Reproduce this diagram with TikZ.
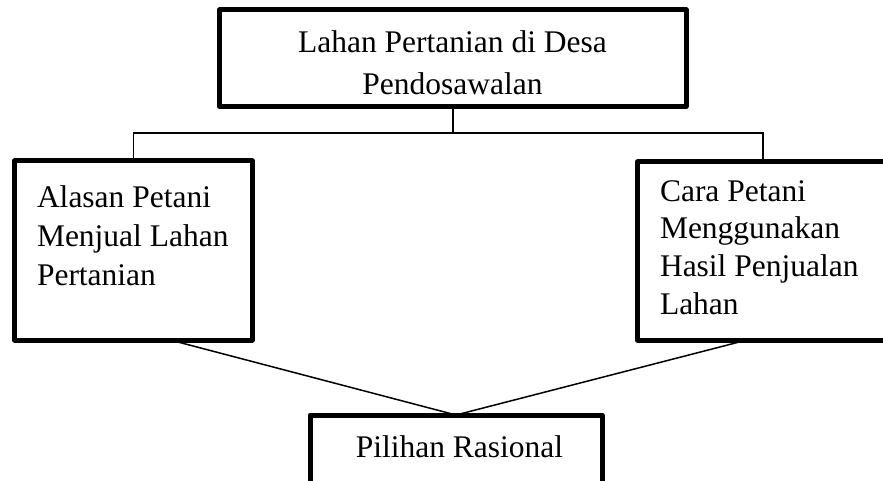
\documentclass[tikz,border=0pt]{standalone}
\usepackage{fontspec}
\setmainfont{Liberation Serif}
\begin{document}
\begin{tikzpicture}[x=1pt,y=-1pt,
  thickbox/.style={draw, line width=5pt, line join=round, rectangle, inner sep=0pt, outer sep=0pt},
  conn/.style={line width=1.5pt},
  lbl/.style={inner sep=0pt, outer sep=0pt, font=\fontsize{31.5}{38}\selectfont}]
\clip (0,0) rectangle (883,481);
\fill[white] (0,0) rectangle (883,481);
% boxes
\node[thickbox, minimum width=466.5pt, minimum height=96.5pt] (top) at (452.75,58.25) {};
\node[thickbox, minimum width=237.5pt, minimum height=179pt] (left) at (133.25,250.5) {};
\node[thickbox, minimum width=251pt, minimum height=178pt] (right) at (763,251) {};
\node[thickbox, minimum width=292pt, minimum height=80pt] (bottom) at (456,455) {};
% texts
\node[lbl, font=\fontsize{31.5}{42}\selectfont, align=center, anchor=north] (toptext) at (452.5,30.3) {Lahan Pertanian di Desa\\Pendosawalan};
\node[lbl, font=\fontsize{31.5}{39}\selectfont, align=left, anchor=north west] (lefttext) at (37,185.3) {Alasan Petani\\Menjual Lahan\\Pertanian};
\node[lbl, font=\fontsize{31.5}{37.7}\selectfont, align=left, anchor=north west] (righttext) at (660,180.3) {Cara Petani\\Menggunakan\\Hasil Penjualan\\Lahan};
\node[lbl, anchor=base] (bottomtext) at (459.5,457) {Pilihan Rasional};
% connectors
\coordinate (bus) at (452.75,133);
\draw[conn] (top.south) -- (bus);
\draw[conn] (bus) -| (left.north);
\draw[conn] (bus) -| (right.north);
\draw[conn] ([xshift=37pt]left.south) -- (bottom.north);
\draw[conn] ([xshift=-16pt]right.south) -- (bottom.north);
\end{tikzpicture}
\end{document}
